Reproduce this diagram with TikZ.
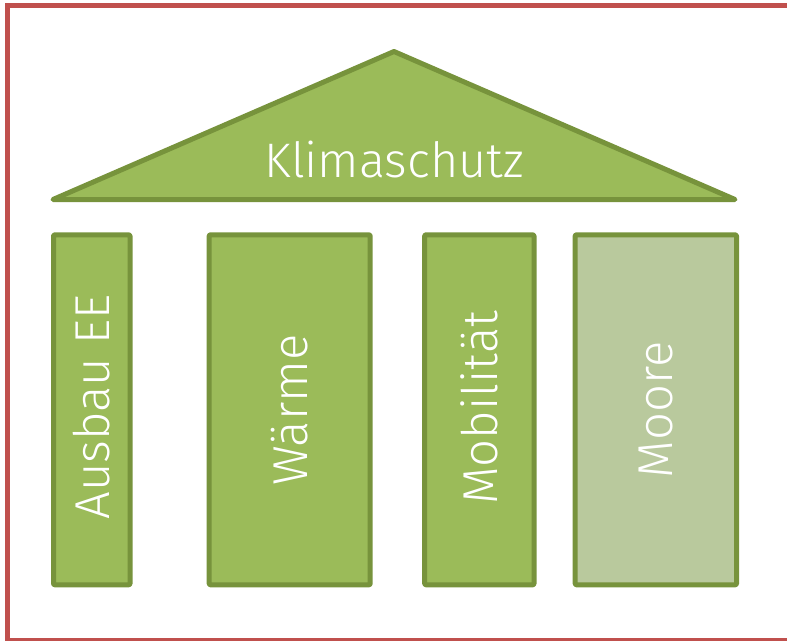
\documentclass[tikz,border=0pt]{standalone}
\usepackage{fontspec}
\setmainfont{Fira Sans}[UprightFont=* Light]
\definecolor{gfill}{HTML}{9BBB59}
\definecolor{gline}{HTML}{77933C}
\definecolor{mfill}{HTML}{B9C99D}
\definecolor{rline}{HTML}{C0504D}
\begin{document}
\begin{tikzpicture}[x=1pt,y=-1pt,
  pillar/.style={draw=gline,fill=gfill,line width=5pt,line join=round,rounded corners=1pt},
  ptext/.style={text=white,font=\fontsize{49}{52}\selectfont,rotate=90}]
\useasboundingbox (0,0) rectangle (787,640);
\draw[rline,line width=5pt] (800,5.5) -- (7.5,5.5) -- (7.5,640.5) -- (800,640.5);
\draw[draw=gline,fill=gfill,line width=5pt,line join=round] (53,199.5) -- (394,51.5) -- (735,199.5) -- cycle;
\node[text=white,font=\fontsize{48.5}{52}\selectfont] (k) at (394,160) {Klimaschutz};
\draw[pillar] (53.5,234.8) rectangle (130,584.8);
\draw[pillar] (209.2,234.8) rectangle (370.2,584.8);
\draw[pillar] (424.7,234.8) rectangle (534,584.8);
\draw[pillar,fill=mfill] (575.2,234.8) rectangle (736.5,584.8);
\node[ptext] (a) at (91.7,407) {Ausbau EE};
\node[ptext] (w) at (289.7,410) {Wärme};
\node[ptext] (m) at (479.3,408) {Mobilität};
\node[ptext] (o) at (655.8,410) {Moore};
\end{tikzpicture}
\end{document}
